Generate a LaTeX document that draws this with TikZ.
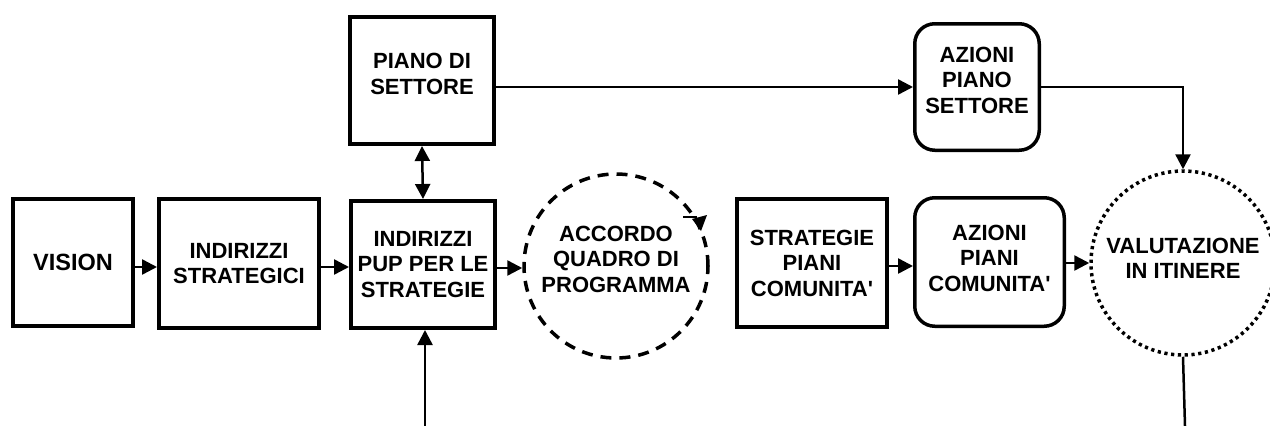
\documentclass[tikz,border=0pt]{standalone}
\usepackage{fontspec}
\setmainfont{Liberation Sans}
\usetikzlibrary{arrows.meta,calc}
\begin{document}
\begin{tikzpicture}[x=1pt,y=-1pt,
  lbl/.style={font=\fontsize{22}{25.5}\selectfont\bfseries, align=center, inner sep=0pt},
  sqbox/.style={lbl, draw, line width=4pt, rectangle},
  rdbox/.style={lbl, draw, line width=3.5pt, rectangle, rounded corners=20pt},
  conn/.style={line width=2.5pt},
  arr/.style={conn, -{Triangle[length=15pt,width=15pt]}},
  darr/.style={conn, {Triangle[length=15pt,width=15pt]}-{Triangle[length=15pt,width=15pt]}}
]
\useasboundingbox (0,0) rectangle (1270,426);
\clip (0,0) rectangle (1270,426);

% boxes
\node[sqbox, minimum width=120pt, minimum height=127pt, font=\fontsize{23.5}{26}\selectfont\bfseries] (vision) at (73,262.5) {VISION};
\node[sqbox, minimum width=160pt, minimum height=129pt] (strat) at (239,263.5) {INDIRIZZI\\STRATEGICI};
\node[sqbox, minimum width=144pt, minimum height=127pt] (pup) at (423,264.5) {INDIRIZZI\\PUP PER LE\\STRATEGIE};
\node[sqbox, minimum width=144pt, minimum height=127pt] (piano) at (422,80.5) {PIANO DI\\SETTORE\\[-12.5pt]};
\node[rdbox, minimum width=124.5pt, minimum height=126.5pt] (aps) at (977,87) {AZIONI\\PIANO\\SETTORE\\[-12pt]};
\node[sqbox, minimum width=150pt, minimum height=128pt] (strpc) at (812,263) {STRATEGIE\\PIANI\\COMUNITA\textquotesingle};
\node[rdbox, minimum width=149.5pt, minimum height=128.5pt] (apc) at (989.5,262) {AZIONI\\PIANI\\COMUNITA\textquotesingle\\[-17.5pt]};
\node[lbl, draw, circle, line width=3.5pt, dash pattern=on 11pt off 8pt, minimum size=184pt] (acc) at (616,266) {ACCORDO\\QUADRO DI\\PROGRAMMA\\[-12pt]};
\node[lbl, draw, circle, line width=3.5pt, dash pattern=on 3.2pt off 3.6pt, minimum size=184pt] (val) at (1183,263) {VALUTAZIONE\\IN ITINERE\\[-16.5pt]};

% free ends
\coordinate (row) at (0,267);
\coordinate (inpup) at (425,426);
\coordinate (outval) at (1185,426);

% connectors
\draw[arr] (vision.east |- row) -- (strat.west |- row);
\draw[arr] (strat.east |- row) -- (pup.west |- row);
\draw[arr] ([yshift=-1pt]pup.east |- row) -- ([yshift=-1pt]acc.west |- row);
\draw[arr] ([yshift=1pt]strpc.east |- row) -- ([yshift=1pt]apc.west |- row);
\draw[arr] (apc.east |- val.west) -- (val.west);
\draw[arr] (aps.west -| piano.east) -- (aps.west);
\draw[arr] (aps.east) -| (val.north);
\draw[darr] (piano.south) -- (pup.north);
\draw[arr] (inpup) -- (inpup |- pup.south);
\draw[conn] (val.south) -- (outval);

% stray arrow on the dashed circle
\coordinate (sa) at (683,217);
\coordinate (sb) at (697,217);
\draw[conn] (sa) -- (sb);
\fill (692,219) -- (707,215) -- (701,231) -- cycle;
\end{tikzpicture}
\end{document}
